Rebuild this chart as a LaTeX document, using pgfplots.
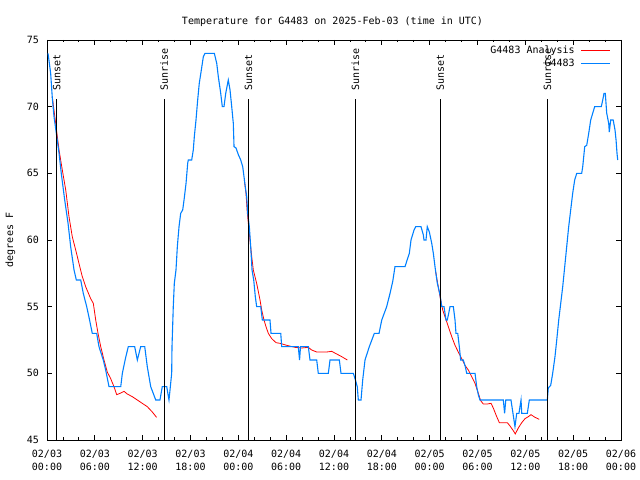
\documentclass[border=0pt]{standalone}
\usepackage{pgfplots}
\pgfplotsset{compat=1.18}
\usepackage{fontspec}
\setmainfont{DejaVu Sans Mono}

\definecolor{obsblue}{RGB}{0,128,255}
\definecolor{anared}{RGB}{255,0,0}

\begin{document}
\begin{tikzpicture}
\path[use as bounding box] (0,0) rectangle (640bp,480bp);
\begin{axis}[
	at={(47bp,40bp)}, anchor=south west,
	scale only axis,
	width=574bp, height=400bp,
	xmin=0, xmax=72, ymin=45, ymax=75,
	xtick={0,6,...,72},
	xticklabels={{02/03\\00:00},{02/03\\06:00},{02/03\\12:00},{02/03\\18:00},{02/04\\00:00},{02/04\\06:00},{02/04\\12:00},{02/04\\18:00},{02/05\\00:00},{02/05\\06:00},{02/05\\12:00},{02/05\\18:00},{02/06\\00:00}},
	minor x tick num=2,
	ytick={45,50,...,75},
	tick align=inside,
	major tick length=5bp, minor tick length=2.5bp,
	every tick/.style={black, line width=0.8bp},
	axis line style={line width=0.9bp},
	font=\fontsize{10bp}{12.5bp}\selectfont,
	/pgf/number format/assume math mode=true,
	xticklabel style={align=center, inner sep=0pt, anchor=north, yshift=-10bp},
	yticklabel style={inner sep=0pt, anchor=east, xshift=-8bp},
	title={Temperature for G4483 on 2025-Feb-03 (time in UTC)},
	title style={at={(axis description cs:0.5,1)}, anchor=center, yshift=12bp, xshift=-1.5bp},
	ylabel={degrees F},
	ylabel style={at={(axis description cs:-0.0636,0.5)}, anchor=center},
	legend style={at={(axis description cs:1,1)}, anchor=north east, draw=none, fill=none,
		xshift=-7bp, yshift=-4bp, row sep=3.5bp, column sep=6bp,
		nodes={inner sep=0pt}},
	legend cell align=right,
	legend plot pos=right,
	legend image code/.code={\draw[#1] (0bp,0bp) -- (29bp,0bp);},
]

% analysis, night segments
\addplot[anared, line width=0.8bp, forget plot] coordinates {
(0.66,70.75) (1.09,68.75) (1.51,66.75) (1.92,65.25) (2.35,63.75) (2.76,61.75) (3.17,60.25) (3.60,59.25) (4.01,58.25) (4.43,57.25) (4.85,56.5) (5.48,55.6) (5.81,55.25) (6.11,54) (6.40,53) (6.74,52) (7.15,51) (7.56,50.1) (7.99,49.6) (8.40,49) (8.74,48.4) (9.16,48.5) (9.66,48.65) (10.07,48.45) (10.70,48.25) (11.33,48) (11.95,47.75) (12.58,47.5) (13.21,47.1) (13.74,46.7)
};
\addplot[anared, line width=0.8bp, forget plot] coordinates {
(24.75,64.5) (24.96,63.5) (25.13,62) (25.30,61) (25.46,60) (25.68,58.75) (25.88,57.75) (26.30,56.75) (26.72,55.5) (26.93,54.75) (27.22,54) (27.47,53.5) (27.76,53) (28.19,52.6) (28.73,52.3) (29.23,52.25) (30.07,52.1) (31.11,51.95) (31.95,51.9) (32.78,51.95) (33.20,51.75) (33.83,51.6) (35.09,51.6) (35.71,51.65) (36.34,51.45) (36.97,51.25) (37.67,51)
};
\addplot[anared, line width=0.8bp, forget plot] coordinates {
(48.76,57.6) (48.96,56.9) (49.30,55.75) (49.64,54.75) (49.92,54.25) (50.34,53.5) (50.77,52.75) (51.18,52.1) (51.59,51.6) (52.02,51.1) (52.43,50.6) (52.85,50.25) (53.27,49.75) (53.69,49.25) (54.10,48.5) (54.40,47.95) (54.73,47.7) (55.23,47.7) (55.70,47.75) (55.98,47.4) (56.41,46.75) (56.74,46.3) (57.74,46.3) (58.08,46.05) (58.49,45.7) (58.74,45.45) (59.12,45.9) (59.55,46.3) (59.96,46.6) (60.37,46.75) (60.71,46.9) (61.21,46.7) (61.75,46.55)
};

% station observations
\addplot[obsblue, line width=1.1bp, forget plot] coordinates {
(0.13,74) (0.46,72.5) (0.66,70.7) (0.88,69.25) (1.17,68) (1.51,66.5) (1.79,65) (2.22,63) (2.63,61.3) (2.97,59.5) (3.39,57.75) (3.68,57) (4.23,57) (4.55,56) (4.98,55) (5.27,54.2) (5.68,53) (6.23,53) (6.52,52) (7.06,51) (7.36,50.25) (7.78,49) (9.25,49) (9.45,50) (9.87,51.2) (10.20,52) (11.00,52) (11.33,51) (11.75,52) (12.26,52) (12.58,50.5) (13.01,49) (13.64,48) (14.17,48) (14.46,49) (15.02,49) (15.30,48) (15.43,48.75) (15.64,50) (15.68,52) (15.84,55) (15.97,56.75) (16.18,57.75) (16.35,59.5) (16.56,61) (16.77,62) (17.02,62.25) (17.19,63) (17.44,64.25) (17.65,65.75) (17.72,66) (18.15,66) (18.35,66.75) (18.48,67.75) (18.69,69) (18.90,70.5) (19.10,71.75) (19.36,72.75) (19.61,73.75) (19.82,74) (20.99,74) (21.29,73.25) (21.49,72.25) (21.79,71) (21.99,70) (22.20,70) (22.42,71) (22.74,72) (22.96,71.25) (23.17,70) (23.37,68.75) (23.46,67) (23.71,66.9) (24.00,66.4) (24.30,66) (24.55,65.5) (24.71,64.75) (24.87,64) (25.05,63.25) (25.18,62) (25.38,61) (25.55,59.5) (25.72,57.75) (25.93,57) (26.13,55.75) (26.30,55) (26.81,55) (27.01,54) (27.97,54) (28.10,53) (29.32,53) (29.44,52) (31.52,52) (31.68,51) (31.80,52) (32.78,52) (32.99,51) (33.83,51) (34.03,50) (35.29,50) (35.50,51) (36.67,51) (36.88,50) (38.42,50) (38.64,49.6) (38.92,49) (39.05,48) (39.39,48) (39.60,49.5) (39.89,51) (40.43,52) (41.06,53) (41.65,53) (41.99,54) (42.61,55) (43.03,56) (43.37,56.9) (43.65,58) (44.91,58) (45.12,58.4) (45.45,59) (45.66,60) (46.04,60.75) (46.25,61) (46.91,61) (47.20,60.4) (47.29,60) (47.54,60) (47.70,61) (47.96,60.6) (48.26,59.75) (48.46,59) (48.67,58) (48.96,56.75) (49.30,55.9) (49.51,55) (49.80,55) (50.05,54) (50.21,54) (50.39,54.5) (50.55,55) (50.97,55) (51.18,54) (51.30,53) (51.52,53) (51.72,52) (51.89,51) (52.22,51) (52.47,50.5) (52.65,50) (53.69,50) (53.90,49) (54.10,48.4) (54.31,48) (57.24,48) (57.40,47) (57.55,48) (58.20,48) (58.45,47) (58.70,46) (58.92,47) (59.20,47) (59.33,47.5) (59.46,48) (59.55,47) (60.25,47) (60.50,48) (62.76,48) (62.88,48.9) (63.18,49.1) (63.43,50) (63.72,51.25) (63.94,52.5) (64.19,54) (64.44,55.25) (64.69,56.5) (64.94,58) (65.19,59.5) (65.44,61) (65.69,62.25) (65.94,63.5) (66.19,64.5) (66.45,65) (67.07,65) (67.20,65.5) (67.45,67) (67.70,67.1) (67.95,68) (68.20,69) (68.45,69.5) (68.70,70) (69.53,70) (69.71,70.5) (69.87,71) (70.03,71) (70.21,69.5) (70.46,68.75) (70.53,68.1) (70.71,69) (71.02,69) (71.25,68.25) (71.38,67.5) (71.50,66.5) (71.59,66)
};

\addlegendimage{anared, line width=0.8bp}
\addlegendentry{G4483 Analysis}
\addlegendimage{obsblue, line width=1.1bp}
\addlegendentry{G4483}

% sunrise / sunset markers
\addplot[black, line width=0.9bp, forget plot] coordinates {(1.21,45) (1.21,70.57)};
\addplot[black, line width=0.9bp, forget plot] coordinates {(14.71,45) (14.71,70.57)};
\addplot[black, line width=0.9bp, forget plot] coordinates {(25.26,45) (25.26,70.57)};
\addplot[black, line width=0.9bp, forget plot] coordinates {(38.67,45) (38.67,70.57)};
\addplot[black, line width=0.9bp, forget plot] coordinates {(49.34,45) (49.34,70.57)};
\addplot[black, line width=0.9bp, forget plot] coordinates {(62.76,45) (62.76,70.57)};
\node[rotate=90, anchor=west, inner sep=0pt, xshift=1.3bp] at (axis cs:1.21,71.1) {Sunset};
\node[rotate=90, anchor=west, inner sep=0pt, xshift=1.3bp] at (axis cs:14.71,71.1) {Sunrise};
\node[rotate=90, anchor=west, inner sep=0pt, xshift=1.3bp] at (axis cs:25.26,71.1) {Sunset};
\node[rotate=90, anchor=west, inner sep=0pt, xshift=1.3bp] at (axis cs:38.67,71.1) {Sunrise};
\node[rotate=90, anchor=west, inner sep=0pt, xshift=1.3bp] at (axis cs:49.34,71.1) {Sunset};
\node[rotate=90, anchor=west, inner sep=0pt, xshift=1.3bp] at (axis cs:62.76,71.1) {Sunrise};
\end{axis}
\end{tikzpicture}
\end{document}
